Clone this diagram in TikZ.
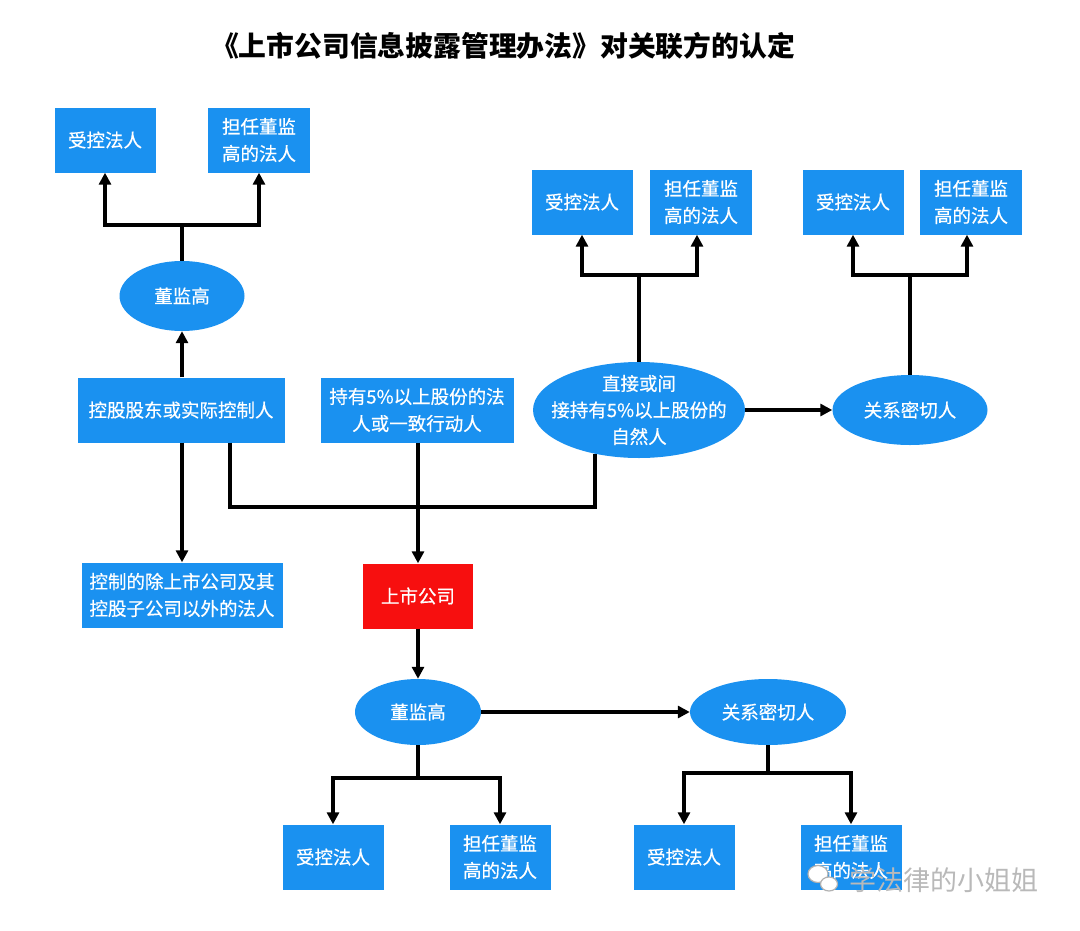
\documentclass[tikz,border=0pt]{standalone}
\usepackage{fontspec}
\newfontfamily\cjk{Noto Sans CJK SC}
\newfontfamily\cjkm[FakeBold=0.45]{Noto Sans CJK SC}
\usetikzlibrary{shapes.geometric,arrows.meta}
\definecolor{boxblue}{HTML}{1A91F0}
\definecolor{boxred}{HTML}{F70F0F}
\begin{document}
\begin{tikzpicture}[x=1pt,y=-1pt,
  blk/.style={fill=boxblue, text=white, minimum width=101pt, minimum height=65pt, inner sep=0pt, align=center, font=\cjkm\fontsize{18.5}{27}\selectfont},
  redbox/.style={blk, fill=boxred, minimum width=110pt},
  ell/.style={ellipse, fill=boxblue, text=white, inner sep=0pt, align=center, font=\cjkm\fontsize{18.5}{26.5}\selectfont},
  etext/.style={text=white, inner sep=0pt, align=center, font=\cjkm\fontsize{18.5}{26.5}\selectfont},
  conn/.style={line width=3.3pt, line join=miter},
  arr/.style={conn, -{Triangle[length=12pt,width=12pt]}}]
\useasboundingbox (0,0) rectangle (1080,930);
\fill[white] (0,0) rectangle (1080,930);

\node[font=\cjk\bfseries\fontsize{27.8}{30}\selectfont] (title) at (503,46) {《上市公司信息披露管理办法》对关联方的认定};

% top-left group
\node[blk] (a1) at (105,140) {受控法人};
\node[blk, minimum width=102pt] (a2) at (259,140) {担任董监\\高的法人};
\node[ell, minimum width=125pt, minimum height=70pt] (e1) at (182,296) {董监高};
\node[blk, minimum width=207pt] (k) at (181,410) {控股股东或实际控制人};
\node[blk, minimum width=201pt] (kz) at (182,595) {控制的除上市公司及其\\控股子公司以外的法人};

% middle
\node[blk, minimum width=193pt] (c5) at (417,410) {持有5\%以上股份的法\\人或一致行动人};
\node[ell, minimum width=212pt, minimum height=96pt] (zr) at (639,410) {};
\node[etext] (zrt) at (zr.center) {直接或间\\接持有5\%以上股份的\\自然人};
\node[ell, minimum width=155pt, minimum height=70pt] (gx1) at (910,410) {关系密切人};
\node[blk] (b1) at (582,202) {受控法人};
\node[blk, minimum width=102pt] (b2) at (701,202) {担任董监\\高的法人};
\node[blk] (c1) at (853,202) {受控法人};
\node[blk, minimum width=102pt] (c2) at (971,202) {担任董监\\高的法人};

% bottom
\node[redbox] (ss) at (418,596) {上市公司};
\node[ell, minimum width=126pt, minimum height=66pt] (e2) at (418,712) {董监高};
\node[ell, minimum width=156pt, minimum height=66pt] (gx2) at (768,712) {关系密切人};
\node[blk] (d1) at (333,857) {受控法人};
\node[blk] (d2) at (500,857) {担任董监\\高的法人};
\node[blk] (d3) at (684,857) {受控法人};
\node[blk] (d4) at (851,857) {担任董监\\高的法人};

% junctions
\coordinate (j1) at (182,225);
\coordinate (j2) at (639,275);
\coordinate (j3) at (910,275);
\coordinate (m) at (418,507);
\coordinate (j4) at (418,778);
\coordinate (j5) at (768,773);

% connectors
\draw[conn] (e1.north) -- (j1);
\draw[arr] (j1) -| (a1.south);
\draw[arr] (j1) -| (a2.south);
\draw[arr] (k.north -| e1.south) -- (e1.south);
\draw[arr] (k.south -| kz.north) -- (kz.north);
\draw[conn] ([xshift=49pt]k.south) |- (m) -| (zr.225);
\draw[arr] (c5.south -| ss.north) -- (ss.north);

\draw[conn] (zr.north) -- (j2);
\draw[arr] (j2) -| (b1.south);
\draw[arr] (j2) -| ([xshift=-4pt]b2.south);
\draw[arr] (zr.east) -- (gx1.west);
\draw[conn] (gx1.north) -- (j3);
\draw[arr] (j3) -| (c1.south);
\draw[arr] (j3) -| ([xshift=-4pt]c2.south);

\draw[arr] (ss.south) -- (e2.north);
\draw[arr] (e2.east) -- (gx2.west);
\draw[conn] (e2.south) -- (j4);
\draw[arr] (j4) -| (d1.north);
\draw[arr] (j4) -| (d2.north);
\draw[conn] (gx2.south) -- (j5);
\draw[arr] (j5) -| (d3.north);
\draw[arr] (j5) -| (d4.north);

% watermark
\begin{scope}[draw=gray!60, line width=1.2pt]
\draw[fill=white] (818,874) ellipse (10pt and 8.5pt);
\draw[fill=white] (829,884) ellipse (8.5pt and 7pt);
\end{scope}
\node[text=gray!55, font=\cjk\fontsize{27}{30}\selectfont] (wm) at (944,880) {学法律的小姐姐};
\end{tikzpicture}
\end{document}
